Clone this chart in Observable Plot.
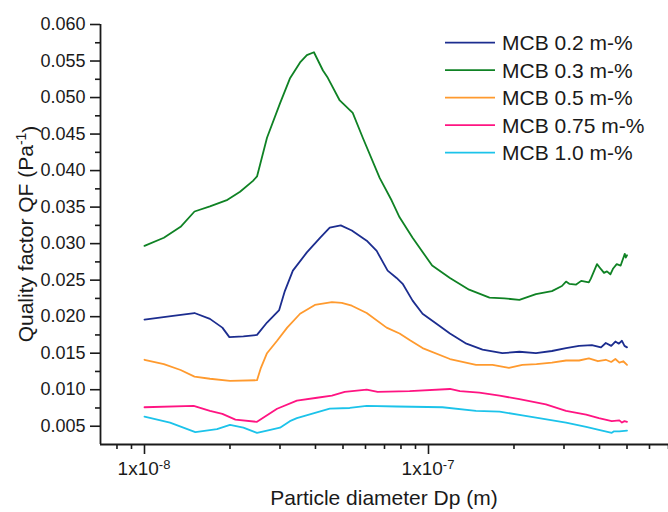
<!DOCTYPE html>
<html>
<head>
<meta charset="utf-8">
<script src="https://cdn.jsdelivr.net/npm/d3@7"></script>
<script src="https://cdn.jsdelivr.net/npm/@observablehq/plot@0.6"></script>
<style>
  html, body { margin: 0; padding: 0; background: #fff; }
  #chart { width: 668px; height: 512px; }
</style>
</head>
<body>
<div id="chart"></div>
<script>
// ---- data (particle diameter in nm, quality factor in 1/Pa) ----
const seriesNames = ["MCB 0.2 m-%", "MCB 0.3 m-%", "MCB 0.5 m-%", "MCB 0.75 m-%", "MCB 1.0 m-%"];
const seriesColors = ["#1c2d8f", "#0f8224", "#ff9a2e", "#ff1482", "#1cc3ea"];

const dp02 = [10, 12.6, 15.0, 17.0, 18.8, 19.9, 22.3, 24.9, 27.0, 29.8, 31.2, 33.3, 37.3, 41.5, 44.9, 49.1, 53.7, 60.6, 65.7, 71.8, 77.2, 81.1, 87.9, 95.3, 107, 119, 136, 155, 182, 209, 239, 272, 305, 339, 376, 405, 421, 440, 455, 468, 480, 490, 500];
const qf02 = [0.0196, 0.0201, 0.0205, 0.0197, 0.0185, 0.0172, 0.0173, 0.0175, 0.0192, 0.0209, 0.0235, 0.0263, 0.0288, 0.0308, 0.0322, 0.0325, 0.0318, 0.0304, 0.0290, 0.0263, 0.0253, 0.0245, 0.0222, 0.0204, 0.0190, 0.0177, 0.0163, 0.0155, 0.0150, 0.0152, 0.0150, 0.0153, 0.0157, 0.0160, 0.0161, 0.0158, 0.0164, 0.0160, 0.0166, 0.0163, 0.0167, 0.0160, 0.0158];

const dp03 = [10, 11.7, 13.4, 15.0, 17.0, 19.6, 21.7, 24.1, 24.9, 27.0, 30.0, 32.5, 35.3, 37.3, 39.5, 42.5, 44.2, 48.7, 54.1, 58.7, 67.3, 74.2, 79.1, 87.9, 103, 119, 139, 164, 185, 209, 239, 272, 295, 305, 313, 331, 345, 367, 373, 392, 405, 415, 425, 437, 447, 460, 475, 491, 495, 500];
const qf03 = [0.0297, 0.0308, 0.0323, 0.0344, 0.0351, 0.0360, 0.0371, 0.0386, 0.0392, 0.0445, 0.0492, 0.0526, 0.0548, 0.0558, 0.0562, 0.0537, 0.0527, 0.0496, 0.0479, 0.0445, 0.0390, 0.0359, 0.0336, 0.0308, 0.0270, 0.0253, 0.0237, 0.0226, 0.0225, 0.0223, 0.0231, 0.0235, 0.0242, 0.0248, 0.0245, 0.0244, 0.0249, 0.0247, 0.0252, 0.0272, 0.0265, 0.0260, 0.0262, 0.0258, 0.0266, 0.0272, 0.0270, 0.0286, 0.0281, 0.0284];

const dp05 = [10, 11.7, 13.4, 15.0, 17.0, 20.0, 24.9, 25.7, 27.0, 29.3, 31.8, 35.3, 39.8, 45.7, 49.5, 53.7, 60.6, 71.2, 79.1, 85.8, 95.3, 119, 147, 168, 192, 214, 240, 272, 305, 339, 367, 395, 421, 440, 455, 470, 485, 500];
const qf05 = [0.0141, 0.0135, 0.0127, 0.0118, 0.0115, 0.0112, 0.0113, 0.0130, 0.0150, 0.0167, 0.0185, 0.0204, 0.0216, 0.0220, 0.0219, 0.0215, 0.0205, 0.0185, 0.0177, 0.0168, 0.0157, 0.0142, 0.0134, 0.0134, 0.0130, 0.0134, 0.0135, 0.0137, 0.0140, 0.0140, 0.0143, 0.0139, 0.0141, 0.0138, 0.0142, 0.0137, 0.0139, 0.0134];

const dp075 = [10, 14.9, 17.0, 18.8, 20.9, 24.9, 29.3, 34.4, 40.5, 45.7, 50.7, 60.6, 66.2, 85.8, 119, 129, 151, 178, 209, 259, 305, 359, 398, 442, 470, 480, 490, 500];
const qf075 = [0.0076, 0.0078, 0.0071, 0.0067, 0.0059, 0.0056, 0.0074, 0.0085, 0.0089, 0.0092, 0.0097, 0.0100, 0.0097, 0.0098, 0.0101, 0.0098, 0.0096, 0.0092, 0.0087, 0.0080, 0.0071, 0.0066, 0.0061, 0.0057, 0.0058, 0.0055, 0.0057, 0.0056];

const dp10 = [10, 12.3, 15.1, 18.0, 20.0, 22.3, 24.9, 27.0, 30.0, 32.5, 34.4, 44.9, 52.8, 60.6, 77.2, 112, 147, 178, 214, 245, 305, 359, 398, 442, 450, 470, 500];
const qf10 = [0.0063, 0.0055, 0.0042, 0.0046, 0.0052, 0.0048, 0.0041, 0.0044, 0.0048, 0.0057, 0.0061, 0.0074, 0.0075, 0.0078, 0.0077, 0.0076, 0.0071, 0.0070, 0.0065, 0.0061, 0.0055, 0.0049, 0.0045, 0.0041, 0.0043, 0.0043, 0.0044];

// ---- axes ----
const xDomain = [7e-9, 7e-7];
const yDomain = [0.0025, 0.060];
const yMajorTicks = [0.005, 0.010, 0.015, 0.020, 0.025, 0.030, 0.035, 0.040, 0.045, 0.050, 0.055, 0.060];
const yMinorTicks = [0.0075, 0.0125, 0.0175, 0.0225, 0.0275, 0.0325, 0.0375, 0.0425, 0.0475, 0.0525, 0.0575];
const xMajorTicks = [1e-8, 1e-7];
const xMajorExponents = ["-8", "-7"];
const xMinorTicks = [8e-9, 9e-9, 2e-8, 3e-8, 4e-8, 5e-8, 6e-8, 7e-8, 8e-8, 9e-8, 2e-7, 3e-7, 4e-7, 5e-7, 6e-7, 7e-7];
const xTitle = "Particle diameter Dp (m)";
const yTitleMain = "Quality factor QF (Pa";
const yTitleSup = "-1";

// ---- build table ----
const seriesArrays = [[dp02, qf02], [dp03, qf03], [dp05, qf05], [dp075, qf075], [dp10, qf10]];
const rows = [];
seriesArrays.forEach(([dp, qf], i) => {
  dp.forEach((d, j) => rows.push({series: seriesNames[i], dp: d * 1e-9, qf: qf[j]}));
});

const FONT = "'Liberation Sans', Arial, Helvetica, sans-serif";
const INK = "#1a1a1a";
const noLabel = () => "";

const plot = Plot.plot({
  width: 668,
  height: 512,
  marginLeft: 100,
  marginRight: 0,
  marginTop: 24,
  marginBottom: 68,
  style: {fontFamily: FONT, fontSize: "18px", color: INK, background: "#fff", overflow: "visible"},
  x: {type: "log", domain: xDomain},
  y: {domain: yDomain},
  color: {domain: seriesNames, range: seriesColors},
  marks: [
    Plot.line(rows, {x: "dp", y: "qf", z: "series", stroke: "series", strokeWidth: 1.8, curve: "linear"}),
    Plot.axisY(yMajorTicks, {tickSize: 10, tickPadding: 5, tickFormat: d3.format(".3f"), label: null, strokeWidth: 1.6, stroke: INK, fill: INK, fontSize: 18}),
    Plot.axisY(yMinorTicks, {tickSize: 5, tickFormat: noLabel, label: null, strokeWidth: 1.6, stroke: INK}),
    Plot.axisX(xMajorTicks, {tickSize: 10, tickFormat: noLabel, label: null, strokeWidth: 1.6, stroke: INK}),
    Plot.axisX(xMinorTicks, {tickSize: 5, tickFormat: noLabel, label: null, strokeWidth: 1.6, stroke: INK}),
    Plot.ruleX([xDomain[0]], {stroke: INK, strokeWidth: 1.8}),
    Plot.ruleY([yDomain[0]], {stroke: INK, strokeWidth: 1.8})
  ]
});

document.getElementById("chart").appendChild(plot);

const svg = d3.select(plot);
const xs = plot.scale("x");

// x tick labels with superscript exponents
const xLab = svg.append("g").attr("font-family", FONT).attr("font-size", 19).attr("fill", INK).attr("text-anchor", "middle");
xMajorTicks.forEach((v, i) => {
  const t = xLab.append("text").attr("x", xs.apply(v)).attr("y", 475);
  t.append("tspan").text("1x10");
  t.append("tspan").attr("dy", "-0.5em").attr("font-size", 13).text(xMajorExponents[i]);
});

// axis titles
svg.append("text")
  .attr("x", 384).attr("y", 505)
  .attr("text-anchor", "middle")
  .attr("font-family", FONT).attr("font-size", 21).attr("fill", INK)
  .text(xTitle);

const yt = svg.append("text")
  .attr("transform", "translate(33,234) rotate(-90)")
  .attr("text-anchor", "middle")
  .attr("font-family", FONT).attr("font-size", 21).attr("fill", INK);
yt.append("tspan").text(yTitleMain);
yt.append("tspan").attr("dy", "-0.5em").attr("font-size", 14).text(yTitleSup);
yt.append("tspan").attr("dy", "0.5em").text(")");

// legend
const lg = svg.append("g").attr("font-family", FONT).attr("font-size", 21).attr("fill", INK).attr("text-anchor", "start");
seriesNames.forEach((name, i) => {
  const cy = 42.7 + 27.5 * i;
  lg.append("line").attr("x1", 445).attr("x2", 495).attr("y1", cy).attr("y2", cy)
    .attr("stroke", seriesColors[i]).attr("stroke-width", 1.8);
  lg.append("text").attr("x", 502).attr("y", cy).attr("dy", "0.35em").text(name);
});
</script>
</body>
</html>
